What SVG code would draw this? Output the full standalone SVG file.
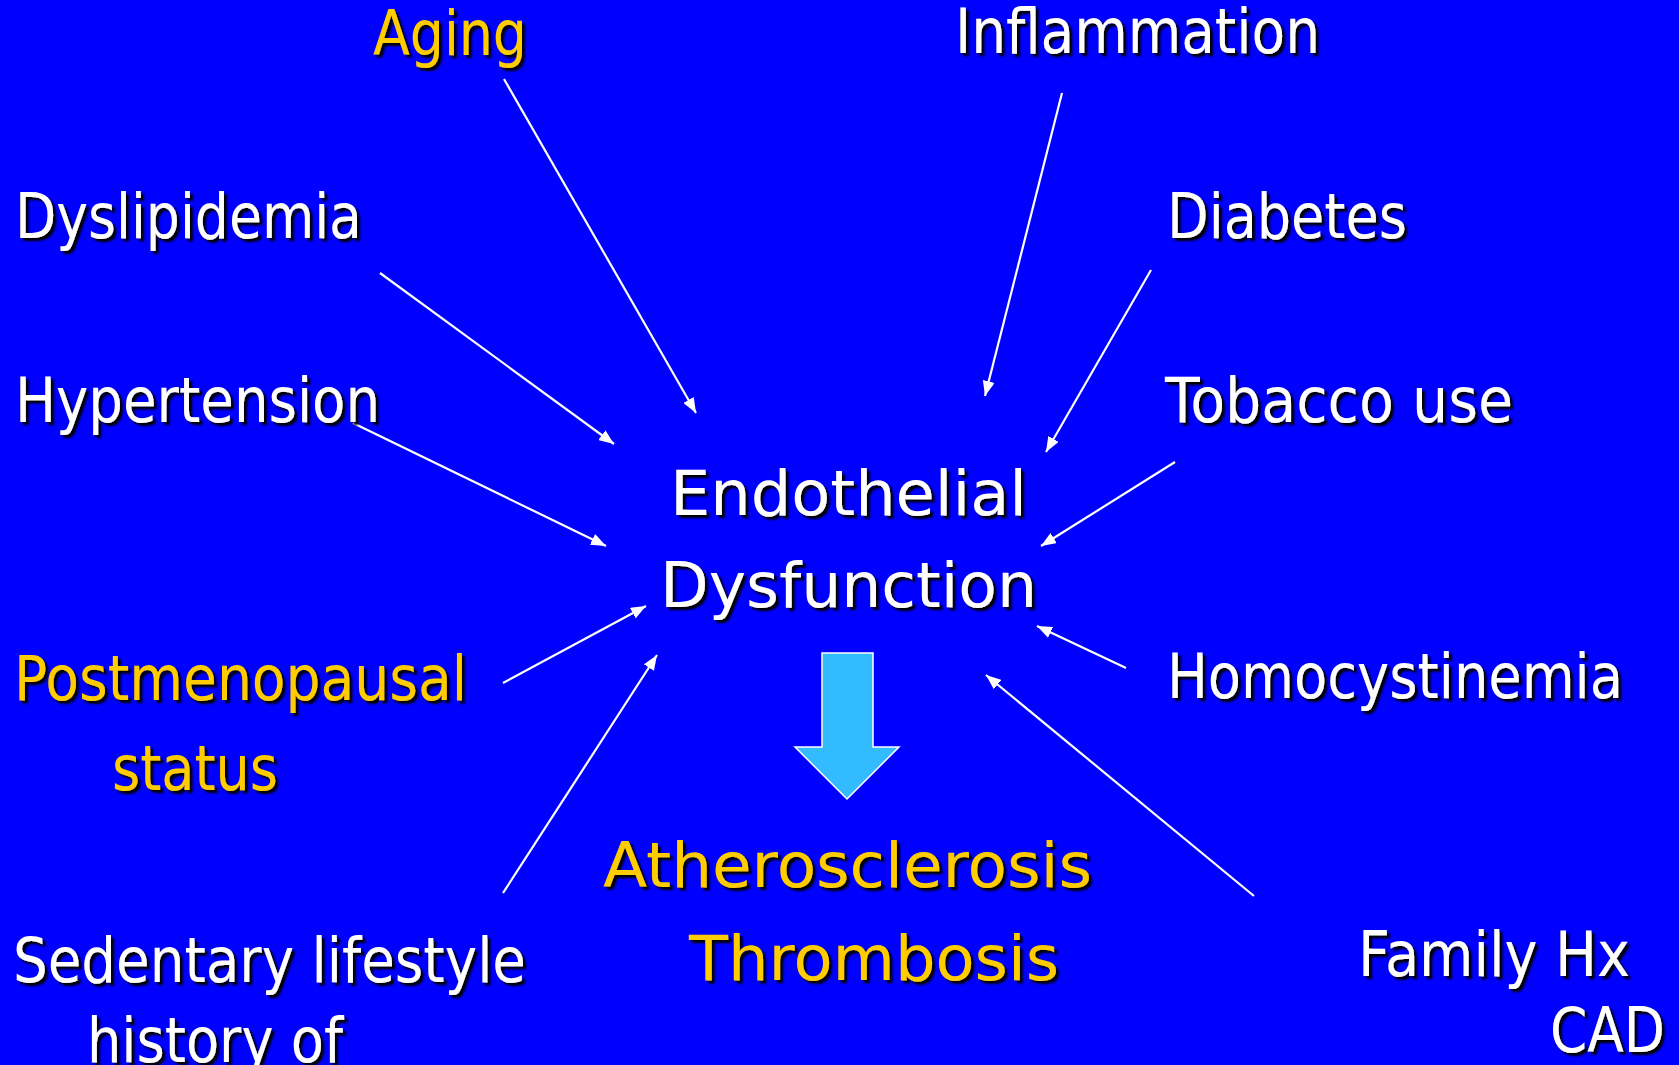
<svg xmlns="http://www.w3.org/2000/svg" width="1679" height="1065" viewBox="0 0 1679 1065">
<defs>
<style>
text{font-family:"DejaVu Sans","Liberation Sans",sans-serif;font-size:62px;filter:url(#sh);}
.w{fill:#ffffff;}
.y{fill:#ffcc00;}
.c{font-size:63px;}
.ln{stroke:#ffffff;stroke-width:2.2;fill:none;marker-end:url(#ah);}
</style>
<filter id="sh" x="-10%" y="-20%" width="120%" height="150%">
<feDropShadow dx="3" dy="3" stdDeviation="1" flood-color="#000000" flood-opacity="1"/>
</filter>
<marker id="ah" markerUnits="userSpaceOnUse" markerWidth="16" markerHeight="12" refX="15" refY="6" orient="auto">
<path d="M0,0 L15,6 L0,12 z" fill="#ffffff"/>
</marker>
</defs>
<rect x="0" y="0" width="1679" height="1065" fill="#0000ff"/>
<g id="connectors">
<line class="ln" x1="504" y1="79" x2="696" y2="413"/>
<line class="ln" x1="1062" y1="93" x2="985" y2="396"/>
<line class="ln" x1="380" y1="273" x2="614" y2="444"/>
<line class="ln" x1="1151" y1="270" x2="1046" y2="452"/>
<line class="ln" x1="353" y1="423" x2="606" y2="546"/>
<line class="ln" x1="1175" y1="462" x2="1041" y2="546"/>
<line class="ln" x1="503" y1="683" x2="646" y2="606"/>
<line class="ln" x1="1126" y1="668" x2="1037" y2="626"/>
<line class="ln" x1="503" y1="893" x2="657" y2="655"/>
<line class="ln" x1="1254" y1="896" x2="986" y2="675"/>
</g>
<g id="aging"><text class="y" x="373" y="55" textLength="154" lengthAdjust="spacingAndGlyphs">Aging</text></g>
<g id="inflammation"><text class="w" x="955" y="53" textLength="365" lengthAdjust="spacingAndGlyphs">Inflammation</text></g>
<g id="dyslipidemia"><text class="w" x="15" y="238" textLength="347" lengthAdjust="spacingAndGlyphs">Dyslipidemia</text></g>
<g id="diabetes"><text class="w" x="1167" y="238" textLength="240" lengthAdjust="spacingAndGlyphs">Diabetes</text></g>
<g id="hypertension"><text class="w" x="15" y="422" textLength="365" lengthAdjust="spacingAndGlyphs">Hypertension</text></g>
<g id="tobacco"><text class="w" x="1165" y="422" textLength="348" lengthAdjust="spacingAndGlyphs">Tobacco use</text></g>
<g id="endothelial-dysfunction">
<text class="w c" x="670" y="515" textLength="357" lengthAdjust="spacingAndGlyphs">Endothelial</text>
<text class="w c" x="660" y="607" textLength="377" lengthAdjust="spacingAndGlyphs">Dysfunction</text>
</g>
<g id="postmenopausal">
<text class="y" x="14" y="700" textLength="453" lengthAdjust="spacingAndGlyphs">Postmenopausal</text>
<text class="y" x="112" y="790" textLength="166" lengthAdjust="spacingAndGlyphs">status</text>
</g>
<g id="homocystinemia"><text class="w" x="1167" y="698" textLength="456" lengthAdjust="spacingAndGlyphs">Homocystinemia</text></g>
<g id="big-arrow">
<path d="M822,653 L873,653 L873,747 L899,747 L847,799 L795,747 L822,747 Z" fill="#33bbff" stroke="#ffffff" stroke-width="1.5"/>
</g>
<g id="outcome">
<text class="y c" x="603" y="887" textLength="489" lengthAdjust="spacingAndGlyphs">Atherosclerosis</text>
<text class="y c" x="689" y="980" textLength="370" lengthAdjust="spacingAndGlyphs">Thrombosis</text>
</g>
<g id="sedentary">
<text class="w" x="13" y="982" textLength="513" lengthAdjust="spacingAndGlyphs">Sedentary lifestyle</text>
<text class="w" x="87" y="1062" textLength="256" lengthAdjust="spacingAndGlyphs">history of</text>
</g>
<g id="family-hx">
<text class="w" x="1358" y="976" textLength="272" lengthAdjust="spacingAndGlyphs">Family Hx</text>
<text class="w" x="1550" y="1052" textLength="115" lengthAdjust="spacingAndGlyphs">CAD</text>
</g>
</svg>
